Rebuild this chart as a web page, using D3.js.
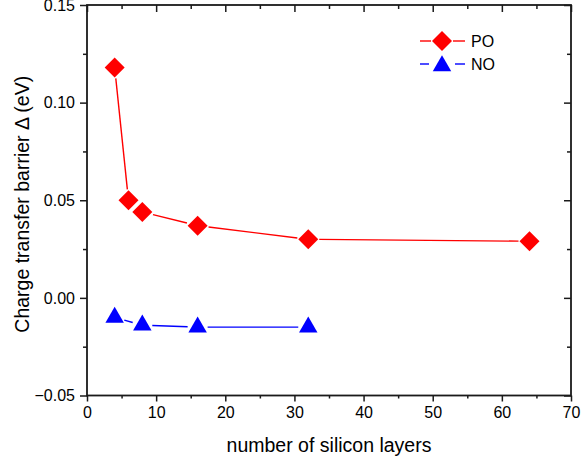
<!DOCTYPE html>
<html>
<head>
<meta charset="utf-8">
<script src="https://cdn.jsdelivr.net/npm/d3@7/dist/d3.min.js"></script>
<style>
  html, body { margin: 0; padding: 0; background: #fff; }
  svg { display: block; }
  text { font-family: Arial, "Liberation Sans", sans-serif; fill: #000; }
</style>
</head>
<body>
<svg id="chart" width="581" height="461"></svg>
<script>
// Silicon layer counts and charge-transfer barriers (eV)
const poLayers = [4, 6, 8, 16, 32, 64];
const poBarrier = [0.118, 0.050, 0.044, 0.037, 0.030, 0.029];
const noLayers = [4, 8, 16, 32];
const noBarrier = [-0.010, -0.014, -0.015, -0.015];

const xTicks = [0, 10, 20, 30, 40, 50, 60, 70];
const yTicks = [-0.05, 0.00, 0.05, 0.10, 0.15];
const xMinor = [5, 15, 25, 35, 45, 55, 65];
const yMinor = [-0.025, 0.025, 0.075, 0.125];

const seriesNames = ["PO", "NO"];
const seriesColors = ["#ff0000", "#0000ff"];

const plotLeft = 87, plotRight = 571, plotTop = 5, plotBottom = 395.5;

const svg = d3.select("#chart");
const x = d3.scaleLinear().domain([0, 70]).range([plotLeft, plotRight]);
const y = d3.scaleLinear().domain([-0.05, 0.15]).range([plotBottom, plotTop]);

const diamond = d3.symbol().type(d3.symbolSquare).size(200);
const triangle = d3.symbol().type(d3.symbolTriangle).size(148);

// Connecting segments, trimmed so they stop short of each marker
function drawSeries(xs, ys, color, gap) {
  const pts = xs.map((d, i) => [x(d), y(ys[i])]);
  const g = svg.append("g");
  for (let i = 0; i < pts.length - 1; i++) {
    const [x0, y0] = pts[i], [x1, y1] = pts[i + 1];
    const len = Math.hypot(x1 - x0, y1 - y0);
    if (len <= 2 * gap) continue;
    const ux = (x1 - x0) / len, uy = (y1 - y0) / len;
    g.append("line")
      .attr("x1", x0 + ux * gap).attr("y1", y0 + uy * gap)
      .attr("x2", x1 - ux * gap).attr("y2", y1 - uy * gap)
      .attr("stroke", color).attr("stroke-width", 1.4);
  }
  return pts;
}

const poPts = drawSeries(poLayers, poBarrier, seriesColors[0], 11);
const noPts = drawSeries(noLayers, noBarrier, seriesColors[1], 10);

svg.append("g").selectAll("path").data(poPts).join("path")
  .attr("d", diamond)
  .attr("transform", d => `translate(${d[0]},${d[1]}) rotate(45)`)
  .attr("fill", seriesColors[0]);

svg.append("g").selectAll("path").data(noPts).join("path")
  .attr("d", triangle)
  .attr("transform", d => `translate(${d[0]},${d[1]})`)
  .attr("fill", seriesColors[1]);

// Axes: left and bottom with outward ticks, top and right mirrored inward
const axisColor = "#1a1a1a";
function styleAxis(g) {
  g.select(".domain").remove();
  g.selectAll(".tick line").attr("stroke", axisColor).attr("stroke-width", 1.5);
  g.selectAll(".tick text").attr("font-size", 16).attr("font-family", "Arial, 'Liberation Sans', sans-serif");
}

svg.append("g").attr("transform", `translate(0,${plotBottom})`)
  .call(d3.axisBottom(x).tickValues(xTicks).tickFormat(d3.format("d")).tickSize(6).tickPadding(5))
  .call(styleAxis);
svg.append("g").attr("transform", `translate(0,${plotBottom})`)
  .call(d3.axisBottom(x).tickValues(xMinor).tickFormat("").tickSize(3))
  .call(styleAxis);

svg.append("g").attr("transform", `translate(${plotLeft},0)`)
  .call(d3.axisLeft(y).tickValues(yTicks).tickFormat(d3.format(".2f")).tickSize(7).tickPadding(5))
  .call(styleAxis);
svg.append("g").attr("transform", `translate(${plotLeft},0)`)
  .call(d3.axisLeft(y).tickValues(yMinor).tickFormat("").tickSize(4))
  .call(styleAxis);

svg.append("g").attr("transform", `translate(0,${plotTop})`)
  .call(d3.axisTop(x).tickValues(xTicks).tickFormat("").tickSize(-7))
  .call(styleAxis);
svg.append("g").attr("transform", `translate(0,${plotTop})`)
  .call(d3.axisTop(x).tickValues(xMinor).tickFormat("").tickSize(-4))
  .call(styleAxis);

svg.append("g").attr("transform", `translate(${plotRight},0)`)
  .call(d3.axisRight(y).tickValues(yTicks).tickFormat("").tickSize(-7))
  .call(styleAxis);
svg.append("g").attr("transform", `translate(${plotRight},0)`)
  .call(d3.axisRight(y).tickValues(yMinor).tickFormat("").tickSize(-4))
  .call(styleAxis);

// Frame
svg.append("rect")
  .attr("x", plotLeft).attr("y", plotTop)
  .attr("width", plotRight - plotLeft).attr("height", plotBottom - plotTop)
  .attr("fill", "none").attr("stroke", axisColor).attr("stroke-width", 1.8);

// Axis titles
svg.append("text")
  .attr("x", (plotLeft + plotRight) / 2).attr("y", 452)
  .attr("text-anchor", "middle").attr("font-size", 19.5)
  .text("number of silicon layers");

svg.append("text")
  .attr("transform", `translate(29,${(plotTop + plotBottom) / 2 + 4}) rotate(-90)`)
  .attr("text-anchor", "middle").attr("font-size", 19.5)
  .text("Charge transfer barrier \u0394 (eV)");

// Legend
const legend = svg.append("g");
const legendY = [41, 64];
seriesNames.forEach((name, i) => {
  const g = legend.append("g").attr("transform", `translate(0,${legendY[i]})`);
  const gap = i === 0 ? 11 : 13;
  g.append("line").attr("x1", 420).attr("x2", 442 - gap).attr("y1", 0).attr("y2", 0)
    .attr("stroke", seriesColors[i]).attr("stroke-width", 1.4);
  g.append("line").attr("x1", 442 + gap).attr("x2", 465).attr("y1", 0).attr("y2", 0)
    .attr("stroke", seriesColors[i]).attr("stroke-width", 1.4);
  g.append("path")
    .attr("d", i === 0 ? diamond : triangle)
    .attr("transform", i === 0 ? "translate(442,0) rotate(45)" : "translate(442,2)")
    .attr("fill", seriesColors[i]);
  g.append("text").attr("x", 471).attr("y", 6).attr("font-size", 16).text(name);
});
</script>
</body>
</html>
